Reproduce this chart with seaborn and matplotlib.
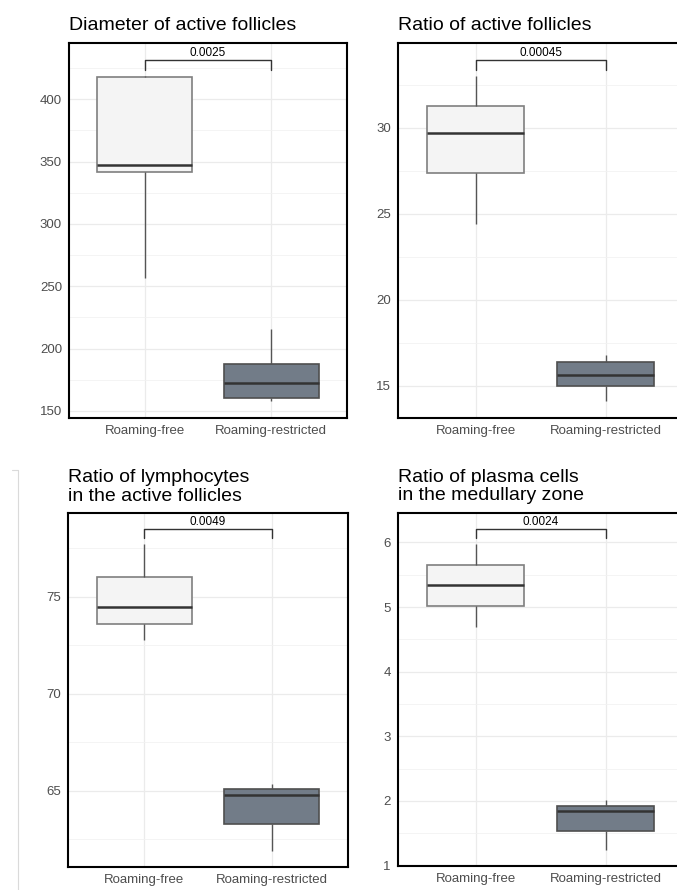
import pandas as pd
import seaborn as sns
import matplotlib.pyplot as plt
from matplotlib.ticker import MultipleLocator
from matplotlib.lines import Line2D

groups = ["Roaming-free", "Roaming-restricted"]

# five-number summaries (min, q1, median, q3, max)
diam_free = [256.9, 341.3, 347.7, 417.7, 418.5]
diam_restr = [158.0, 160.5, 172.5, 187.8, 216.0]
ratio_free = [24.4, 27.4, 29.7, 31.3, 33.0]
ratio_restr = [14.13, 15.0, 15.64, 16.4, 16.8]
lymph_free = [72.76, 73.59, 74.47, 76.02, 77.71]
lymph_restr = [61.9, 63.31, 64.79, 65.07, 65.34]
plasma_free = [4.69, 5.01, 5.34, 5.65, 5.97]
plasma_restr = [1.24, 1.54, 1.84, 1.92, 2.01]

titles = ["Diameter of active follicles",
          "Ratio of active follicles",
          "Ratio of lymphocytes\nin the active follicles",
          "Ratio of plasma cells\nin the medullary zone"]
p_labels = ["0.0025", "0.00045", "0.0049", "0.0024"]
major_steps = [50, 5, 5, 1]

panels = [(diam_free, diam_restr), (ratio_free, ratio_restr),
          (lymph_free, lymph_restr), (plasma_free, plasma_restr)]

sns.set_theme(style="white")
plt.rcParams['font.family'] = ['Liberation Sans', 'DejaVu Sans']

fig = plt.figure(figsize=(6.77, 8.9), dpi=100)
W, H = 677, 890
# axes boxes in pixels: left, top, width, height
boxes = [(69, 43, 278, 375), (397.7, 43, 286, 375),
         (68, 513, 280, 354), (397.7, 513, 286, 353)]

fill_colors = ["#F4F4F4", "#6F7C8B"]
edge_colors = ["#7F7F7F", "#4F4F4F"]

for i, ((free, restr), (l, t, w, h)) in enumerate(zip(panels, boxes)):
    ax = fig.add_axes([l / W, 1 - (t + h) / H, w / W, h / H])
    df = pd.DataFrame({"group": [groups[0]] * len(free) + [groups[1]] * len(restr),
                       "value": free + restr})
    sns.boxplot(data=df, x="group", y="value", hue="group", palette=fill_colors,
                width=0.75, linewidth=1.1, linecolor="#555555", showcaps=False,
                showfliers=False, legend=False, ax=ax,
                medianprops={"color": "#333333", "linewidth": 1.8},
                whiskerprops={"color": "#555555", "linewidth": 1.0})
    for patch, ec in zip(ax.patches, edge_colors):
        patch.set_edgecolor(ec)
        patch.set_linewidth(1.2)

    # significance bracket, placed like geom_signif (5% step, 3% tip)
    lo = min(free + restr)
    hi = max(free + restr)
    rng = hi - lo
    y_top = hi + 0.05 * rng
    tip = 0.03 * rng
    ax.plot([0, 0, 1, 1], [y_top - tip, y_top, y_top, y_top - tip],
            color="#333333", lw=1.0, zorder=4)
    ax.text(0.5, y_top + 0.004 * rng, p_labels[i], ha="center", va="bottom",
            fontsize=8.5, color="black")

    span = y_top - lo
    ax.set_ylim(lo - 0.05 * span, y_top + 0.05 * span)
    ax.set_xlim(-0.6, 1.6)

    ax.yaxis.set_major_locator(MultipleLocator(major_steps[i]))
    ax.yaxis.set_minor_locator(MultipleLocator(major_steps[i] / 2))
    ax.grid(which="major", color="#EBEBEB", lw=0.9)
    ax.grid(which="minor", axis="y", color="#F2F2F2", lw=0.6)
    ax.set_axisbelow(True)

    ax.set_xlabel("")
    ax.set_ylabel("")
    ax.tick_params(axis="both", which="both", length=0, labelsize=9.5,
                   labelcolor="#4D4D4D", pad=5)
    for s in ax.spines.values():
        s.set_visible(True)
        s.set_color("black")
        s.set_linewidth(1.5)
        s.set_zorder(5)
    ax.set_title(titles[i], loc="left", fontsize=14, color="black", pad=9,
                 linespacing=1.15)

# thin border line left over from the composite image
fig.add_artist(Line2D([18 / W, 18 / W], [0, 1 - 470 / H], color="#DADADA", lw=0.8))
fig.add_artist(Line2D([12 / W, 18 / W], [1 - 470 / H, 1 - 470 / H], color="#DADADA", lw=0.8))

fig.savefig("out.png", dpi=100)
